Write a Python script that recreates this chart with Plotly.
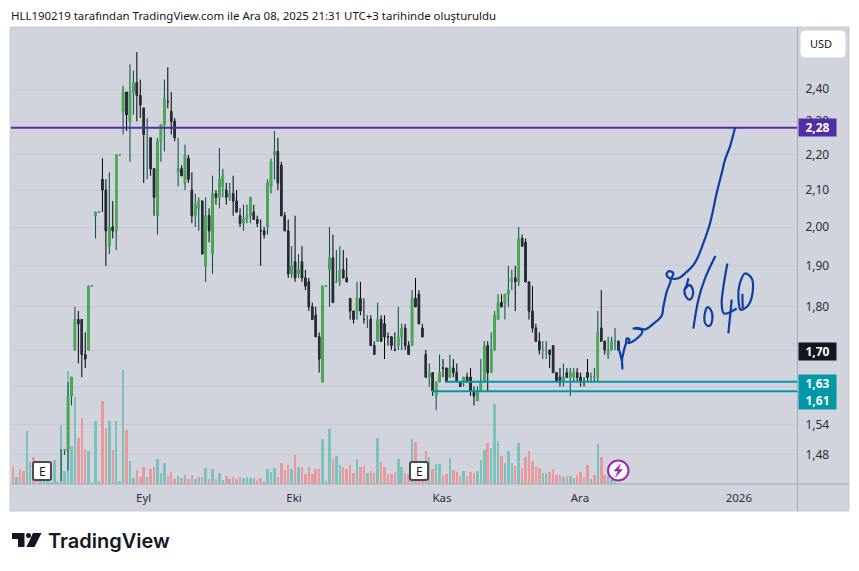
import math
import plotly.graph_objects as go

W, H = 859, 571

# ---------- data ----------
first_candle = 14
opens = [1.49,1.49,1.49,1.60,1.70,1.77,1.77,1.69,1.70,1.85,2.03,2.04,2.13,2.10,1.95,2.00,1.99,2.20,2.33,2.39,2.30,2.39,2.42,2.38,2.34,2.26,2.25,2.16,2.03,2.24,2.29,2.36,2.33,2.30,2.15,2.16,2.12,2.19,2.10,2.03,2.05,2.07,1.90,2.03,1.93,2.09,2.08,2.11,2.10,2.08,2.09,2.07,2.03,2.01,2.02,2.03,2.04,2.02,1.99,1.99,2.00,2.11,2.20,2.21,2.17,2.03,1.99,1.88,1.91,1.88,1.91,1.87,1.86,1.80,1.78,1.73,1.63,1.85,1.89,1.92,1.86,1.86,1.89,1.87,1.82,1.79,1.79,1.82,1.77,1.77,1.77,1.71,1.72,1.77,1.76,1.73,1.73,1.70,1.71,1.73,1.75,1.71,1.71,1.82,1.83,1.75,1.69,1.64,1.65,1.60,1.63,1.66,1.66,1.64,1.66,1.65,1.63,1.63,1.64,1.64,1.61,1.59,1.61,1.63,1.71,1.65,1.70,1.77,1.81,1.81,1.83,1.86,1.87,1.86,1.97,1.96,1.86,1.79,1.75,1.72,1.70,1.70,1.70,1.71,1.65,1.64,1.63,1.65,1.64,1.64,1.65,1.64,1.63,1.65,1.64,1.64,1.64,1.75,1.72,1.69,1.70,1.72,1.72]
highs = [1.49,1.49,1.63,1.64,1.80,1.79,1.77,1.74,1.85,1.85,2.04,2.04,2.19,2.13,2.15,2.07,2.20,2.20,2.41,2.39,2.48,2.46,2.52,2.43,2.34,2.31,2.25,2.16,2.25,2.29,2.43,2.47,2.39,2.31,2.25,2.17,2.23,2.20,2.15,2.09,2.08,2.07,2.08,2.05,2.14,2.10,2.22,2.16,2.12,2.12,2.14,2.10,2.05,2.06,2.06,2.08,2.06,2.03,2.02,2.00,2.13,2.19,2.27,2.25,2.18,2.04,2.02,1.95,2.03,1.93,1.95,1.89,1.87,1.81,1.80,1.74,1.85,1.85,2.00,1.98,1.94,1.95,1.94,1.92,1.82,1.79,1.86,1.86,1.82,1.78,1.78,1.72,1.81,1.78,1.78,1.74,1.73,1.74,1.80,1.76,1.76,1.72,1.84,1.87,1.84,1.76,1.70,1.67,1.65,1.63,1.69,1.68,1.66,1.69,1.68,1.67,1.63,1.64,1.65,1.66,1.62,1.62,1.68,1.72,1.72,1.74,1.79,1.83,1.83,1.83,1.90,1.89,1.90,2.00,1.98,1.97,1.86,1.85,1.76,1.74,1.72,1.72,1.70,1.71,1.65,1.66,1.67,1.66,1.66,1.66,1.66,1.65,1.64,1.68,1.65,1.66,1.79,1.84,1.72,1.73,1.73,1.75,1.72]
lows = [1.43,1.48,1.45,1.58,1.70,1.67,1.64,1.66,1.70,1.85,1.97,2.04,2.04,1.90,1.93,1.97,1.94,2.20,2.26,2.27,2.18,2.32,2.30,2.31,2.12,2.13,2.14,2.03,1.98,2.18,2.21,2.34,2.26,2.24,2.11,2.14,2.10,2.12,2.01,2.00,1.99,1.93,1.86,1.96,1.88,2.06,2.05,2.08,2.06,2.07,2.03,2.04,2.00,1.99,2.01,2.01,2.02,2.00,1.90,1.97,1.98,2.09,2.13,2.10,2.03,1.99,1.87,1.87,1.86,1.87,1.86,1.84,1.79,1.77,1.73,1.65,1.63,1.85,1.80,1.81,1.86,1.85,1.87,1.86,1.77,1.76,1.77,1.78,1.76,1.75,1.71,1.69,1.72,1.72,1.68,1.71,1.70,1.70,1.70,1.70,1.70,1.69,1.71,1.80,1.76,1.73,1.64,1.62,1.60,1.57,1.63,1.64,1.63,1.64,1.64,1.63,1.62,1.62,1.63,1.60,1.58,1.59,1.61,1.63,1.61,1.65,1.70,1.77,1.80,1.77,1.80,1.84,1.79,1.85,1.95,1.86,1.77,1.74,1.72,1.69,1.68,1.68,1.66,1.65,1.63,1.62,1.62,1.64,1.60,1.63,1.63,1.62,1.62,1.63,1.63,1.63,1.63,1.72,1.69,1.68,1.70,1.70,1.70]
closes = [1.49,1.49,1.60,1.64,1.77,1.76,1.69,1.68,1.85,1.85,2.04,2.04,2.10,1.99,2.00,1.99,2.20,2.20,2.39,2.32,2.39,2.42,2.38,2.35,2.26,2.26,2.16,2.08,2.24,2.29,2.37,2.36,2.30,2.25,2.16,2.14,2.20,2.13,2.03,2.06,2.07,1.93,2.03,1.99,2.09,2.08,2.13,2.14,2.08,2.09,2.07,2.04,2.01,2.02,2.03,2.08,2.02,2.01,1.99,1.98,2.12,2.18,2.21,2.12,2.03,1.99,1.88,1.90,1.87,1.89,1.87,1.85,1.80,1.77,1.73,1.68,1.85,1.85,1.92,1.81,1.86,1.89,1.87,1.86,1.79,1.77,1.82,1.79,1.77,1.77,1.71,1.69,1.77,1.72,1.73,1.73,1.71,1.70,1.73,1.75,1.71,1.69,1.82,1.80,1.76,1.73,1.64,1.65,1.61,1.63,1.65,1.66,1.63,1.66,1.65,1.63,1.62,1.64,1.63,1.61,1.60,1.61,1.63,1.71,1.65,1.70,1.78,1.81,1.80,1.83,1.84,1.87,1.86,1.97,1.95,1.86,1.79,1.75,1.72,1.70,1.70,1.70,1.69,1.65,1.63,1.63,1.64,1.64,1.65,1.65,1.64,1.63,1.63,1.64,1.64,1.64,1.74,1.72,1.70,1.70,1.72,1.72,1.70]
flat_up = [14,15,23,25,31,39,91,94,103,154,155,168,169,175]

volume = [52,22,46,40,160,65,82,30,30,30,30,5,73,4,178,40,340,115,262,139,199,106,100,7,190,10,250,169,190,103,190,10,343,163,70,19,43,22,52,22,46,52,76,34,64,25,37,16,25,19,28,16,28,16,22,22,49,16,46,16,34,13,25,16,22,16,22,19,22,19,19,13,19,10,46,37,49,22,64,42,57,46,88,50,52,30,52,30,45,46,136,10,166,76,85,58,52,46,58,32,76,50,55,34,40,32,139,67,52,31,31,37,76,50,34,31,136,127,60,40,100,82,46,61,61,28,31,79,43,37,25,40,25,37,34,40,73,103,124,109,241,130,85,64,100,64,55,124,49,82,100,70,52,48,34,34,37,44,28,26,22,24,23,18,28,36,22,56,14,28,119,80,28,23,13,6,3]
# first bar of each run of same-direction volume bars
vol_dir_runs = [
    (0,"r"),(1,"g"),(2,"r"),(4,"g"),(6,"r"),(8,"g"),(19,"r"),(22,"g"),(26,"r"),(28,"g"),(29,"r"),(30,"g"),(33,"r"),(34,"g"),
    (36,"r"),(39,"g"),(40,"r"),(42,"g"),(45,"r"),(48,"g"),(49,"r"),(50,"g"),(51,"r"),(53,"g"),(55,"r"),(56,"g"),(57,"r"),(58,"g"),
    (59,"r"),(60,"g"),(62,"r"),(63,"g"),(64,"r"),(67,"g"),(71,"r"),(74,"g"),(77,"r"),(81,"g"),(82,"r"),(83,"g"),(84,"r"),(90,"g"),
    (93,"r"),(94,"g"),(96,"r"),(100,"g"),(101,"r"),(103,"g"),(104,"r"),(106,"g"),(107,"r"),(112,"g"),(114,"r"),(116,"g"),(117,"r"),
    (121,"g"),(122,"r"),(123,"g"),(125,"r"),(127,"g"),(128,"r"),(131,"g"),(132,"r"),(135,"g"),(138,"r"),(139,"g"),(142,"r"),(143,"g"),
    (146,"r"),(147,"g"),(148,"r"),(154,"g"),(156,"r"),(160,"g"),(161,"r"),(162,"g"),(164,"r"),(168,"g"),(169,"r"),(170,"g"),(171,"r"),
    (173,"g"),(176,"r"),
]

price_ticks = [2.40,2.30,2.20,2.10,2.00,1.90,1.80,1.70,1.62,1.54,1.48]
price_tick_labels = ["2,40","2,30","2,20","2,10","2,00","1,90","1,80","","","1,54","1,48"]
date_tick_pos = [38,81.7,124.7,164.8,211]
date_tick_labels = ["Eyl","Eki","Kas","Ara","2026"]

level_purple = 2.28
level_teal_hi = 1.63
level_teal_lo = 1.61
teal_hi_start = 125.6
teal_lo_start = 121.8
last_price = 1.70

# freehand drawing: bar-index / price pairs
curve_x = [175.78,176.46,177.04,177.14,177.04,177.62,178.2,178.4,179.17,178.88,179.85,181.79,182.95,182.46,180.33,181.79,183.72,186.15,188.57,189.05,190.02,191.19,190.22,190.02,190.8,191.96,191.48,193.41,195.84,197.78,198.94,200.68,202.62,204.56,206.01,206.98,208.43,209.89]
curve_y = [1.711,1.693,1.673,1.659,1.678,1.70,1.716,1.726,1.724,1.716,1.718,1.729,1.741,1.747,1.749,1.75,1.747,1.76,1.779,1.80,1.836,1.867,1.873,1.881,1.887,1.881,1.869,1.869,1.885,1.902,1.919,1.958,2.01,2.092,2.147,2.186,2.225,2.28]
zero1_x = [196.32,195.84,195.16,195.64,196.61,197.48,197.58,196.61,195.35]
zero1_y = [1.869,1.852,1.84,1.824,1.817,1.824,1.842,1.852,1.842]
slash_x = [204.17,201.17,199.23,197.78]
slash_y = [1.925,1.869,1.817,1.749]
zero2_x = [201.84,200.97,201.46,202.43,203.3,202.81,201.84]
zero2_y = [1.799,1.775,1.758,1.755,1.772,1.793,1.799]
four_a_x = [207.66,206.5,206.01,206.69,210.37]
four_a_y = [1.906,1.848,1.808,1.784,1.796]
four_b_x = [208.92,207.95]
four_b_y = [1.817,1.738]
zero3_x = [212.79,211.15,210.86,211.53,213.76,215.02,214.73,212.79]
zero3_y = [1.881,1.852,1.824,1.793,1.804,1.836,1.869,1.881]
zero3b_x = [212.02,212.12]
zero3b_y = [1.831,1.796]

title_text = "HLL190219 tarafından TradingView.com ile Ara 08, 2025 21:31 UTC+3 tarihinde oluşturuldu"

# ---------- helpers ----------
def X(px): return px / W
def Y(py): return 1 - py / H

BG = "#d1d4dc"
GRID = "#c5c8d0"
AXIS = "#a9acb5"
TXT = "#2a2e39"
FONT = "Noto Sans"
UP_BODY, UP_WICK = "#4caf50", "#004d40"
DN_BODY, DN_WICK = "#2a2e39", "#000000"
PURPLE, TEAL, BLUE = "#512da8", "#0097a7", "#0d3ea3"

x_all = list(range(len(volume)))
assert len(volume) == 177
assert all(len(a) == 163 for a in (opens, highs, lows, closes))

dirs = ["g"] * 177
for k, (start, d) in enumerate(vol_dir_runs):
    end = vol_dir_runs[k + 1][0] if k + 1 < len(vol_dir_runs) else 177
    for j in range(start, end):
        dirs[j] = d
bar_colors = ["#7cc1bb" if d == "g" else "#e89a9b" for d in dirs]

cx = [first_candle + j for j in range(len(opens))]
is_up = [c > o or (c == o and i in flat_up) for i, o, c in zip(cx, opens, closes)]

def pick(arr, up):
    return [v for v, u in zip(arr, is_up) if u == up]

fig = go.Figure()

fig.add_trace(go.Bar(x=x_all, y=volume, marker=dict(color=bar_colors, line_width=0),
                     width=0.72, yaxis="y", xaxis="x", showlegend=False, hoverinfo="skip"))

def candles(up, o, h, l, c, color, fill, lw):
    fig.add_trace(go.Candlestick(
        x=pick(cx, up), open=pick(o, up), high=pick(h, up), low=pick(l, up), close=pick(c, up),
        xaxis="x", yaxis="y2", showlegend=False, hoverinfo="skip", whiskerwidth=0,
        increasing=dict(line=dict(color=color, width=lw), fillcolor=fill),
        decreasing=dict(line=dict(color=color, width=lw), fillcolor=fill)))

body_top = [max(o, c) for o, c in zip(opens, closes)]
body_bot = [min(o, c) for o, c in zip(opens, closes)]
for up, body, wick in ((True, UP_BODY, UP_WICK), (False, DN_BODY, DN_WICK)):
    candles(up, opens, highs, lows, closes, wick, body, 1)
    candles(up, opens, body_top, body_bot, closes, body, body, 1)

def line(xs, ys, color, width=2, shape="linear"):
    fig.add_trace(go.Scatter(x=xs, y=ys, mode="lines", xaxis="x", yaxis="y2", showlegend=False,
                             hoverinfo="skip", line=dict(color=color, width=width, shape=shape)))

x_min, x_max = -0.58, 227.9
line([x_min, x_max], [level_purple, level_purple], PURPLE)
line([teal_hi_start, x_max], [level_teal_hi, level_teal_hi], TEAL)
line([teal_lo_start, x_max], [level_teal_lo, level_teal_lo], TEAL)
for xs, ys in ((curve_x, curve_y), (zero1_x, zero1_y), (slash_x, slash_y), (zero2_x, zero2_y),
               (four_a_x, four_a_y), (four_b_x, four_b_y), (zero3_x, zero3_y), (zero3b_x, zero3b_y)):
    line(xs, ys, BLUE, 2.2, "spline")

def rrect(x0, y0, x1, y1, r):
    a, b, c, d = X(x0), X(x1), Y(y0), Y(y1)
    rx, ry = r / W, r / H
    return (f"M{a+rx},{c} L{b-rx},{c} Q{b},{c} {b},{c-ry} L{b},{d+ry} Q{b},{d} {b-rx},{d} "
            f"L{a+rx},{d} Q{a},{d} {a},{d+ry} L{a},{c-ry} Q{a},{c} {a+rx},{c} Z")

shapes = [
    dict(type="rect", xref="paper", yref="paper", x0=X(10), x1=X(849), y0=Y(27), y1=Y(511),
         fillcolor=BG, line=dict(color="#c8cbd3", width=1), layer="below"),
    dict(type="line", xref="paper", yref="paper", x0=X(797.5), x1=X(797.5), y0=Y(27), y1=Y(511),
         line=dict(color=AXIS, width=1)),
    dict(type="line", xref="paper", yref="paper", x0=X(11), x1=X(849), y0=Y(484), y1=Y(484),
         line=dict(color=AXIS, width=1)),
    dict(type="path", xref="paper", yref="paper", path=rrect(801, 31, 845, 57, 4),
         fillcolor="#ffffff", line=dict(color="#ffffff", width=1)),
]
for ex in (33, 410):
    shapes.append(dict(type="path", xref="paper", yref="paper", path=rrect(ex, 462, ex + 18, 480, 2),
                       fillcolor="#ffffff", line=dict(color="#4a4a4a", width=2)))
# lightning badge
shapes.append(dict(type="circle", xref="paper", yref="paper", x0=X(608), x1=X(628.5), y0=Y(460.5), y1=Y(480.5),
                   fillcolor="#ffffff", line=dict(color="#9c27b0", width=2)))
bolt = [(620.5, 464), (614, 471), (618, 471), (615.5, 477), (622.5, 469.5), (618.5, 469.5)]
shapes.append(dict(type="path", xref="paper", yref="paper",
                   path="M" + " L".join(f"{X(a)},{Y(b)}" for a, b in bolt) + " Z",
                   fillcolor="#9c27b0", line=dict(color="#9c27b0", width=0.5)))
# wordmark glyph
logo_t = [(12, 533), (24.5, 533), (24.5, 547), (18, 547), (18, 539), (12, 539)]
logo_s = [(33, 533), (41.5, 533), (34.5, 547), (26.5, 547)]
for poly in (logo_t, logo_s):
    shapes.append(dict(type="path", xref="paper", yref="paper",
                       path="M" + " L".join(f"{X(a)},{Y(b)}" for a, b in poly) + " Z",
                       fillcolor="#131722", line=dict(color="#131722", width=0)))
shapes.append(dict(type="circle", xref="paper", yref="paper", x0=X(26), x1=X(31), y0=Y(533), y1=Y(538),
                   fillcolor="#131722", line=dict(color="#131722", width=0)))

annotations = [
    dict(text=title_text, xref="paper", yref="paper", x=X(9), y=Y(15), xanchor="left", yanchor="middle",
         showarrow=False, font=dict(family=FONT, size=11.45, color="#131722")),
    dict(text="TradingView", xref="paper", yref="paper", x=X(46), y=Y(541), xanchor="left", yanchor="middle",
         showarrow=False, font=dict(family="Inter", size=20, color="#131722", weight=600)),
    dict(text="USD", xref="paper", yref="paper", x=X(821), y=Y(44), xanchor="center", yanchor="middle",
         showarrow=False, font=dict(family=FONT, size=11, color="#131722")),
]
for ex in (33, 410):
    annotations.append(dict(text="E", xref="paper", yref="paper", x=X(ex + 9), y=Y(471), xanchor="center",
                            yanchor="middle", showarrow=False, font=dict(family=FONT, size=12, color="#131722")))

def tag(price, color, shift=0):
    annotations.append(dict(
        text=f"<b>{price:.2f}</b>".replace(".", ","), xref="paper", yref="y2", x=X(798), y=math.log10(price),
        xanchor="left", yanchor="middle", yshift=shift, showarrow=False, width=35, height=15, align="center",
        bgcolor=color, borderpad=1, font=dict(family=FONT, size=12, color="#ffffff")))

tag(level_purple, PURPLE)
tag(last_price, "#131722", -1)
tag(level_teal_hi, TEAL, -2)
tag(level_teal_lo, TEAL, -9)

y_top, y_bot = 27, 484
def price_at(py):
    return 2.4 * math.exp((89 - py) / 757)

fig.update_layout(
    width=W, height=H, margin=dict(l=0, r=0, t=0, b=0), autosize=False,
    paper_bgcolor="#ffffff", plot_bgcolor="rgba(0,0,0,0)",
    showlegend=False, boxgap=0.42, bargap=0, shapes=shapes, annotations=annotations,
    font=dict(family=FONT, size=12, color=TXT),
    xaxis=dict(domain=[X(11), X(797)], range=[x_min, x_max], tickmode="array", tickvals=date_tick_pos,
               ticktext=date_tick_labels, showgrid=False, zeroline=False, showline=False, ticks="outside",
               ticklen=3, tickcolor="rgba(0,0,0,0)", rangeslider=dict(visible=False),
               tickfont=dict(family=FONT, size=11.5, color=TXT), anchor="y"),
    yaxis=dict(domain=[Y(y_bot), Y(y_top)], range=[0, 1371], showgrid=False, zeroline=False,
               showticklabels=False, ticks="", anchor="x"),
    yaxis2=dict(domain=[Y(y_bot), Y(y_top)], overlaying="y", side="right", type="log", anchor="x",
                range=[math.log10(price_at(y_bot)), math.log10(price_at(y_top))],
                tickmode="array", tickvals=price_ticks, ticktext=price_tick_labels,
                showgrid=True, gridcolor=GRID, gridwidth=1, zeroline=False, showline=False, ticks="outside",
                ticklen=5, tickcolor="rgba(0,0,0,0)", tickfont=dict(family=FONT, size=12, color=TXT)),
)

fig.write_html("out.html", config=dict(displayModeBar=False),
               post_script="document.body.style.margin='0';document.body.style.overflow='hidden';")
